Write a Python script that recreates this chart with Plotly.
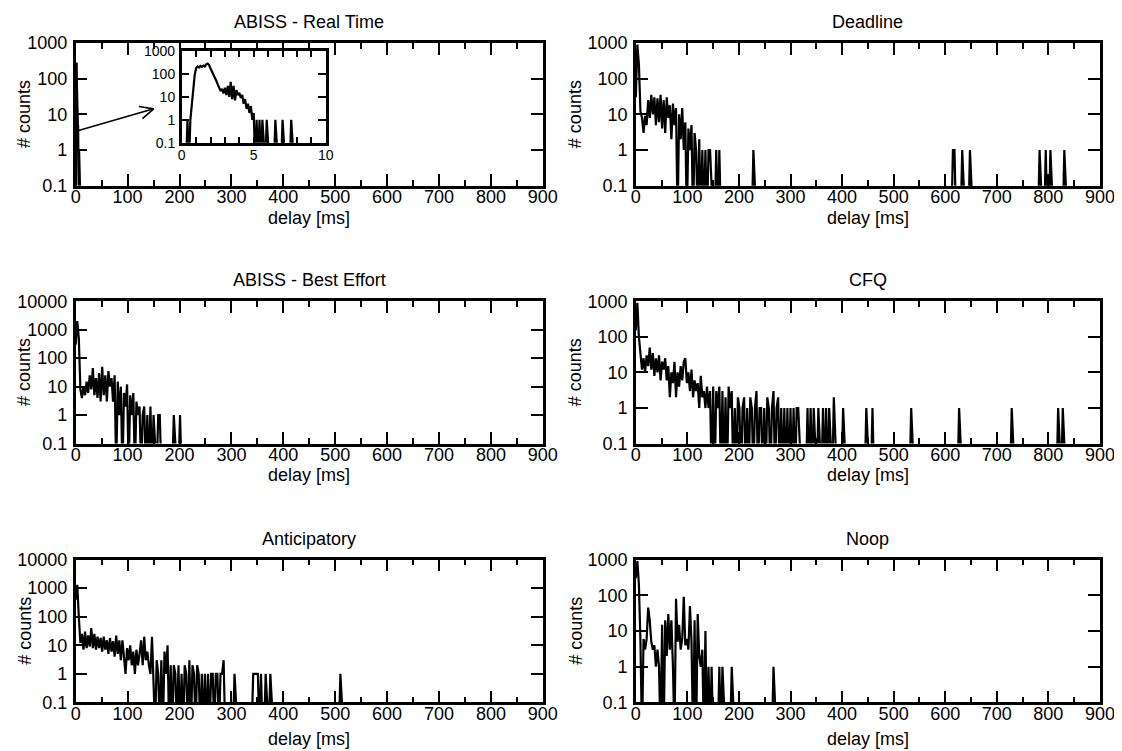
import numpy as np
import plotly.graph_objects as go

# ---------------- data (histogram counts, 3 ms bins starting at 0 ms) ----------------
BIN_MS = 3
X_MAX = 900

deadline_counts = [30, 900, 250, 12, 8, 3, 9, 5, 25, 8, 35, 10, 30, 5, 28, 6, 35, 4, 25, 3,
                   30, 8, 18, 2, 20, 5, 15, 0, 10, 2, 15, 1, 6, 0, 4, 1, 5, 0, 3, 1,
                   0, 2, 0, 1, 0, 1, 0, 1, 1, 0, 0, 0, 1, 0, 1]
deadline_spikes = [228, 615, 618, 633, 648, 783, 795, 804, 831]
deadline_spike_counts = [1, 1, 1, 1, 1, 1, 1, 1, 1]

besteffort_counts = [300, 2000, 500, 8, 4, 10, 5, 15, 6, 25, 8, 45, 5, 20, 4, 30, 3, 50, 5, 25,
                     3, 35, 10, 20, 3, 25, 0, 15, 1, 10, 0, 6, 2, 12, 0, 5, 1, 6, 0, 3,
                     1, 2, 0, 1, 2, 0, 1, 0, 2, 0, 1, 0, 0, 1, 1]
besteffort_spikes = [189, 201]
besteffort_spike_counts = [1, 1]

cfq_counts = [150, 900, 100, 25, 12, 25, 10, 30, 15, 50, 12, 35, 8, 25, 10, 30, 6, 20, 12, 25,
              6, 15, 2, 10, 5, 20, 2, 10, 4, 15, 6, 20, 25, 5, 10, 3, 12, 2, 6, 3,
              5, 1, 8, 2, 3, 1, 4, 1, 3, 0, 4, 0, 3, 1, 4, 0, 3, 0, 2, 0,
              4, 1, 3, 0, 1, 0, 2, 1, 0, 1, 2, 0, 1, 0, 2, 1, 0, 1, 3, 0,
              1, 1, 0, 1, 0, 2, 1, 0, 1, 3, 0, 1, 2, 0, 1, 0, 1, 0, 1, 0,
              1, 0, 1, 0, 1, 1, 0]
cfq_spikes = [333, 339, 345, 354, 363, 369, 375, 384, 402, 447, 459, 534, 627, 729, 819, 828]
cfq_spike_counts = [1, 1, 1, 1, 1, 1, 1, 2, 1, 1, 1, 1, 1, 1, 1, 1]

anticip_counts = [400, 1300, 100, 12, 25, 7, 30, 8, 22, 9, 40, 8, 25, 7, 20, 8, 18, 6, 20, 7,
                  15, 5, 18, 6, 14, 4, 22, 5, 15, 3, 15, 4, 1, 8, 3, 10, 2, 6, 1, 7,
                  2, 5, 15, 2, 20, 3, 6, 2, 1, 20, 2, 0, 3, 1, 0, 3, 0, 6, 1, 10,
                  0, 2, 0, 2, 1, 0, 2, 0, 1, 0, 2, 1, 0, 3, 0, 2, 1, 0, 2, 1,
                  0, 1, 0, 1, 0, 1, 0, 1, 1, 0, 1, 1, 0, 1, 1, 3, 0]
anticip_spikes = [306, 342, 345, 348, 351, 357, 366, 375, 510]
anticip_spike_counts = [1, 1, 1, 1, 1, 1, 1, 1, 1]

noop_counts = [300, 900, 200, 5, 0, 6, 3, 6, 45, 20, 5, 3, 4, 1, 3, 1, 0, 15, 0, 20,
               2, 30, 3, 20, 1, 0, 80, 5, 15, 3, 6, 90, 4, 6, 3, 50, 5, 0, 20, 0,
               30, 2, 1, 3, 0, 10, 0, 1, 0, 1]
noop_spikes = [162, 168, 186, 267]
noop_spike_counts = [1, 1, 1, 1]

# ABISS real time: 0.1 ms bins (shown in the inset and in the main panel)
RT_BIN_MS = 0.1
RT_X_MAX = 10
realtime_counts = [0, 0, 0, 0, 1, 0, 1, 4, 25, 90, 180, 210, 190, 220, 200, 230, 210, 260, 280, 240,
                   170, 130, 95, 70, 50, 35, 25, 18, 22, 14, 25, 12, 30, 10, 45, 8, 30, 7, 20, 12,
                   15, 9, 12, 5, 8, 3, 5, 2, 4, 1, 2, 0, 1, 0, 1, 0, 1, 0]
realtime_spikes = [5.9, 6.5, 7.0, 7.6]
realtime_spike_counts = [1, 1, 1, 1]

titles = ["ABISS - Real Time", "Deadline", "ABISS - Best Effort", "CFQ", "Anticipatory", "Noop"]
x_ticks = [0, 100, 200, 300, 400, 500, 600, 700, 800, 900]
y_ticks = [0.1, 1, 10, 100, 1000, 10000]
y_tick_text = ["0.1", "1", "10", "100", "1000", "10000"]
inset_x_ticks = [0, 5, 10]

# ---------------- helpers ----------------
W, H = 1122, 751
FONT = "Liberation Sans, Arial, Helvetica, sans-serif"
FLOOR = 0.01  # zero counts are drawn below the axis floor

# mapping from target picture pixels to figure pixels (calibrated on the rendered page)
SX, OX = 0.982, 13.3
SY, OY = 0.974, 18.1


def fx(xp):
    return ((xp - OX) / SX) / W


def fy(yp):
    return 1 - ((yp - OY) / SY) / H


def build(counts, spikes, spike_counts, binw, xmax):
    n = int(round(xmax / binw)) + 1
    arr = np.zeros(n)
    arr[:len(counts)] = counts
    for s, v in zip(spikes, spike_counts):
        arr[int(round(s / binw))] = v
    x = np.arange(n) * binw
    y = np.where(arr > 0, arr, FLOOR)
    return x, y


series = [
    build(realtime_counts, realtime_spikes, realtime_spike_counts, RT_BIN_MS, RT_X_MAX),
    build(deadline_counts, deadline_spikes, deadline_spike_counts, BIN_MS, X_MAX),
    build(besteffort_counts, besteffort_spikes, besteffort_spike_counts, BIN_MS, X_MAX),
    build(cfq_counts, cfq_spikes, cfq_spike_counts, BIN_MS, X_MAX),
    build(anticip_counts, anticip_spikes, anticip_spike_counts, BIN_MS, X_MAX),
    build(noop_counts, noop_spikes, noop_spike_counts, BIN_MS, X_MAX),
]
y_top_decade = [3, 3, 4, 3, 4, 3]

# target positions in picture pixels
cols = [(76, 543), (636, 1100)]
rows = [(43, 186), (301.5, 444), (560, 703)]
title_y = [22, 280.5, 539]
xlabel_y = [218, 475, 740]
ylabel_x = [25, 576]

fig = go.Figure()
layout = dict(
    width=W, height=H, autosize=False,
    margin=dict(l=0, r=0, t=0, b=0),
    paper_bgcolor="white", plot_bgcolor="white",
    showlegend=False,
    font=dict(family=FONT, size=18, color="black"),
)
annotations = []
LW = 2.2
FRAME = 2.5
TW = 1.8

for k in range(6):
    r, c = divmod(k, 2)
    x0, x1 = cols[c]
    y0, y1 = rows[r]
    idx = k + 1
    xa = "x" if idx == 1 else f"x{idx}"
    ya = "y" if idx == 1 else f"y{idx}"
    xs, ys = series[k]
    fig.add_trace(go.Scatter(x=xs, y=ys, mode="lines", xaxis=xa, yaxis=ya,
                             line=dict(color="black", width=LW), hoverinfo="skip"))
    top = y_top_decade[k]
    layout[f"xaxis{'' if idx == 1 else idx}"] = dict(
        domain=[fx(x0), fx(x1)], anchor=ya, range=[0, X_MAX],
        tickmode="array", tickvals=x_ticks, ticktext=[str(v) for v in x_ticks],
        ticks="inside", ticklen=12, tickwidth=TW, tickcolor="black",
        minor=dict(dtick=50, tick0=0, ticks="inside", ticklen=6, tickwidth=TW, tickcolor="black"),
        showline=True, linewidth=FRAME, linecolor="black", mirror="ticks",
        showgrid=False, zeroline=False, tickfont=dict(size=18),
        ticklabelstandoff=-7,
    )
    n_ticks = top + 2
    layout[f"yaxis{'' if idx == 1 else idx}"] = dict(
        domain=[fy(y1), fy(y0)], anchor=xa, type="log", range=[-1, top],
        tickmode="array", tickvals=y_ticks[:n_ticks], ticktext=y_tick_text[:n_ticks],
        ticks="inside", ticklen=12, tickwidth=TW, tickcolor="black",
        showline=True, linewidth=FRAME, linecolor="black", mirror="ticks",
        showgrid=False, zeroline=False, tickfont=dict(size=18),
        ticklabelstandoff=2,
    )
    cx = (x0 + x1) / 2
    annotations.append(dict(text=titles[k], x=fx(cx), y=fy(title_y[r]), xref="paper", yref="paper",
                            xanchor="center", yanchor="middle", showarrow=False,
                            font=dict(size=18)))
    annotations.append(dict(text="delay [ms]", x=fx(cx), y=fy(xlabel_y[r]), xref="paper", yref="paper",
                            xanchor="center", yanchor="middle", showarrow=False,
                            font=dict(size=18)))
    annotations.append(dict(text="# counts", x=fx(ylabel_x[c]), y=fy((y0 + y1) / 2), xref="paper",
                            yref="paper", xanchor="center", yanchor="middle", showarrow=False,
                            textangle=-90, font=dict(size=18)))

# ---------------- inset (zoom on ABISS real time, 0-10 ms) ----------------
ix0, ix1, iy0, iy1 = 182, 326, 51, 143
xs, ys = series[0]
fig.add_trace(go.Scatter(x=xs, y=ys, mode="lines", xaxis="x7", yaxis="y7",
                         line=dict(color="black", width=LW), hoverinfo="skip"))
layout["xaxis7"] = dict(
    domain=[fx(ix0), fx(ix1)], anchor="y7", range=[0, RT_X_MAX],
    tickmode="array", tickvals=inset_x_ticks, ticktext=[str(v) for v in inset_x_ticks],
    ticks="inside", ticklen=6, tickwidth=TW, tickcolor="black",
    minor=dict(dtick=1, tick0=0, ticks="inside", ticklen=6, tickwidth=TW, tickcolor="black"),
    showline=True, linewidth=FRAME, linecolor="black", mirror="ticks",
    showgrid=False, zeroline=False, tickfont=dict(size=14), ticklabelstandoff=-2,
)
layout["yaxis7"] = dict(
    domain=[fy(iy1), fy(iy0)], anchor="x7", type="log", range=[-1, 3],
    tickmode="array", tickvals=y_ticks[:5], ticktext=y_tick_text[:5],
    ticks="inside", ticklen=8, tickwidth=TW, tickcolor="black",
    showline=True, linewidth=FRAME, linecolor="black", mirror="ticks",
    showgrid=False, zeroline=False, tickfont=dict(size=14), ticklabelstandoff=1,
)

# arrow from the main-panel peak to the inset (open arrow head)
a_start = (78, 131)
a_tip = (154, 109)
shapes = [dict(type="line", xref="paper", yref="paper",
               x0=fx(a_start[0]), y0=fy(a_start[1]), x1=fx(a_tip[0]), y1=fy(a_tip[1]),
               line=dict(color="black", width=1.6))]
dx, dy = a_tip[0] - a_start[0], a_tip[1] - a_start[1]
ang = np.arctan2(dy, dx)
for s in (+1, -1):
    a = ang + np.pi + s * np.deg2rad(25)
    ex, ey = a_tip[0] + 15 * np.cos(a), a_tip[1] + 15 * np.sin(a)
    shapes.append(dict(type="line", xref="paper", yref="paper",
                       x0=fx(a_tip[0]), y0=fy(a_tip[1]), x1=fx(ex), y1=fy(ey),
                       line=dict(color="black", width=1.6)))

layout["annotations"] = annotations
layout["shapes"] = shapes
fig.update_layout(**layout)
fig.write_html("out.html")
